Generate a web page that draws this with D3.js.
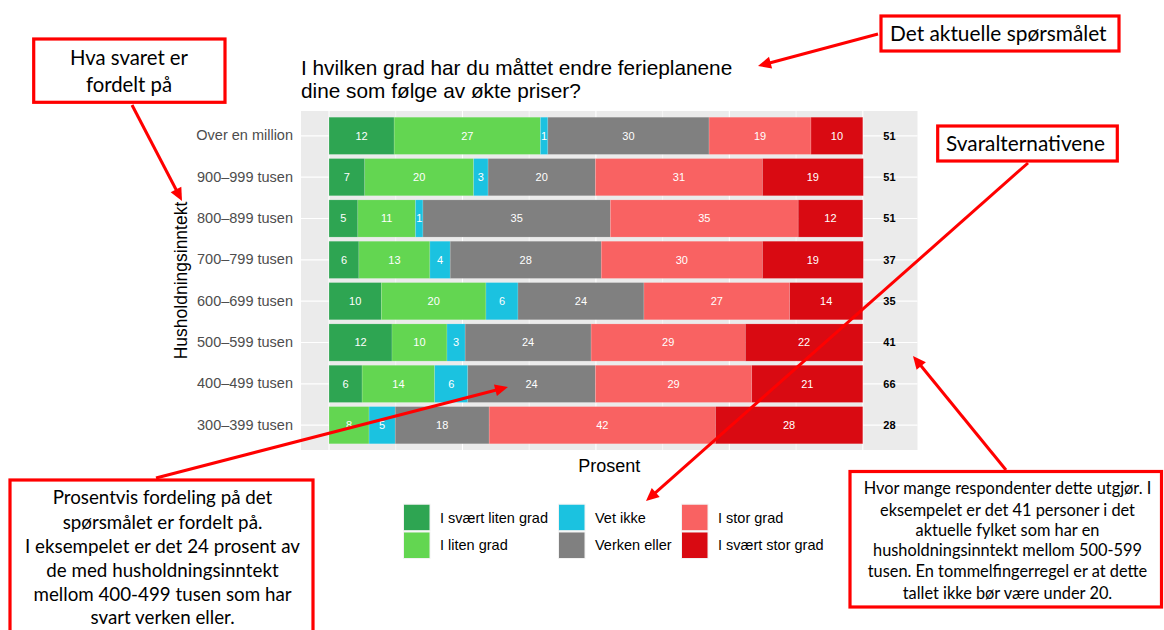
<!DOCTYPE html>
<html><head><meta charset="utf-8">
<script src="https://cdn.jsdelivr.net/npm/d3@7"></script>
<style>body{margin:0;background:#fff}</style>
</head><body><svg id="c" width="1164" height="630"></svg>
<script>
// ---------------- DATA ----------------
const categories = ["Over en million","900–999 tusen","800–899 tusen","700–799 tusen","600–699 tusen","500–599 tusen","400–499 tusen","300–399 tusen"];
const seriesNames = ["I svært liten grad","I liten grad","Vet ikke","Verken eller","I stor grad","I svært stor grad"];
const seriesColors = ["#2ea552","#63d651","#1bc2e0","#808080","#f96262","#d90a12"];
const svaertLitenGrad = [12.2, 6.7, 5.4, 5.6, 9.8, 11.8, 6.2, 0];
const litenGrad       = [27.4, 20.4, 10.8, 13.3, 19.6, 10.3, 13.6, 7.5];
const vetIkke         = [1.4, 2.7, 1.4, 3.8, 6.0, 3.4, 6.2, 4.9];
const verkenEller     = [30.2, 20.1, 35.1, 28.3, 23.6, 23.6, 23.9, 17.6];
const storGrad        = [19.1, 31.3, 35.2, 30.2, 27.3, 28.9, 29.3, 42.4];
const svaertStorGrad  = [9.7, 18.9, 12.1, 18.9, 13.7, 22.0, 20.8, 27.6];
const nRespondents    = [51, 51, 51, 37, 35, 41, 66, 28];
const nLabelPos = 105;
const xMajorTicks = [0, 25, 50, 75, 100];
const xMinorTicks = [12.5, 37.5, 62.5, 87.5];
const titleLines = ["I hvilken grad har du måttet endre ferieplanene", "dine som følge av økte priser?"];
const yTitle = "Husholdningsinntekt";
const xTitle = "Prosent";

const seriesValues = [svaertLitenGrad, litenGrad, vetIkke, verkenEller, storGrad, svaertStorGrad];
const table = categories.map((c, i) => {
  const row = {cat: c};
  seriesNames.forEach((s, k) => row[s] = seriesValues[k][i]);
  return row;
});

// ---------------- CHART ----------------
const svg = d3.select("#c");
svg.append("rect").attr("width", 1164).attr("height", 630).attr("fill", "#fff");
const P = {l: 301, r: 917.5, t: 111, b: 450};
const chartFont = "'Liberation Sans', Arial, Helvetica, sans-serif";

const x = d3.scaleLinear().domain([-5.25, 110.25]).range([P.l, P.r]);
const y = d3.scaleBand().domain(categories).range([P.t, P.b]).paddingInner(0.1).paddingOuter(0.15);
const color = d3.scaleOrdinal().domain(seriesNames).range(seriesColors);

svg.append("rect").attr("x", P.l).attr("y", P.t).attr("width", P.r - P.l).attr("height", P.b - P.t).attr("fill", "#ebebeb");
const grid = svg.append("g");
grid.selectAll(".vmin").data(xMinorTicks).join("line")
  .attr("x1", d => x(d)).attr("x2", d => x(d)).attr("y1", P.t).attr("y2", P.b)
  .attr("stroke", "#fff").attr("stroke-width", 0.6);
grid.selectAll(".vmaj").data(xMajorTicks).join("line")
  .attr("x1", d => x(d)).attr("x2", d => x(d)).attr("y1", P.t).attr("y2", P.b)
  .attr("stroke", "#fff").attr("stroke-width", 1.1);
grid.selectAll(".h").data(categories).join("line")
  .attr("x1", P.l).attr("x2", P.r).attr("y1", d => y(d) + y.bandwidth() / 2).attr("y2", d => y(d) + y.bandwidth() / 2)
  .attr("stroke", "#fff").attr("stroke-width", 1.2);

const stacked = d3.stack().keys(seriesNames)(table);
const layers = svg.append("g").selectAll("g").data(stacked).join("g").attr("fill", d => color(d.key));
layers.selectAll("rect").data(d => d).join("rect")
  .attr("x", d => x(d[0])).attr("width", d => x(d[1]) - x(d[0]))
  .attr("y", d => y(d.data.cat)).attr("height", y.bandwidth())
  .attr("stroke", "rgba(255,255,255,0.25)").attr("stroke-width", 0.6);

const labels = svg.append("g").attr("font-family", chartFont).attr("font-size", 11).attr("fill", "#fff").attr("text-anchor", "middle");
stacked.forEach(layer => {
  layer.forEach(d => {
    const v = d[1] - d[0];
    if (v <= 0) return;
    labels.append("text").attr("x", (x(d[0]) + x(d[1])) / 2).attr("y", y(d.data.cat) + y.bandwidth() / 2).attr("dy", "0.36em")
      .text(Math.round(v));
  });
});

svg.append("g").attr("font-family", chartFont).attr("font-size", 11).attr("font-weight", "bold").attr("fill", "#000").attr("text-anchor", "middle")
  .selectAll("text").data(categories).join("text")
  .attr("x", x(nLabelPos)).attr("y", d => y(d) + y.bandwidth() / 2).attr("dy", "0.36em")
  .text((d, i) => nRespondents[i]);

const yAxis = svg.append("g").attr("transform", `translate(${P.l},0)`).call(d3.axisLeft(y).tickSize(0).tickPadding(8));
yAxis.select(".domain").remove();
yAxis.selectAll("text").attr("font-family", chartFont).attr("font-size", 14.5).attr("fill", "#4d4d4d");

svg.append("g").attr("font-family", chartFont).attr("font-size", 20.8).attr("fill", "#000")
  .selectAll("text").data(titleLines).join("text").attr("x", P.l).attr("y", (d, i) => 74.5 + i * 23).text(d => d);

svg.append("text").attr("transform", `translate(187,${(P.t + P.b) / 2}) rotate(-90)`).attr("text-anchor", "middle")
  .attr("font-family", chartFont).attr("font-size", 17.5).attr("fill", "#000").text(yTitle);
svg.append("text").attr("x", (P.l + P.r) / 2).attr("y", 472).attr("text-anchor", "middle")
  .attr("font-family", chartFont).attr("font-size", 18).attr("fill", "#000").text(xTitle);

// legend
const legCols = [403.5, 558.5, 681.5], legRows = [504.2, 532], keyS = 26.5, legLabelOff = 36.5;
const leg = svg.append("g").attr("font-family", chartFont).attr("font-size", 14.5);
seriesNames.forEach((s, i) => {
  const cx = legCols[Math.floor(i / 2)], cy = legRows[i % 2];
  leg.append("rect").attr("x", cx).attr("y", cy).attr("width", keyS).attr("height", keyS).attr("fill", color(s))
    .attr("stroke", "#f2f2f2").attr("stroke-width", 1);
  leg.append("text").attr("x", cx + legLabelOff).attr("y", cy + keyS / 2).attr("dy", "0.36em").attr("fill", "#000").text(s);
});

// ---------------- ANNOTATIONS ----------------
const red = "#ff0000";
const arrows = [
  [[132, 105], [182, 201]],
  [[878, 34], [758, 66]],
  [[1028, 163], [646, 501]],
  [[156, 478], [508, 387]],
  [[1006, 470], [913, 356]]
];
arrows.forEach(([a, b]) => {
  const dx = b[0] - a[0], dy = b[1] - a[1], L = Math.hypot(dx, dy);
  const bx = b[0] - dx / L * 9, by = b[1] - dy / L * 9;
  svg.append("line").attr("x1", a[0]).attr("y1", a[1]).attr("x2", bx).attr("y2", by)
    .attr("stroke", red).attr("stroke-width", 3);
  const ang = Math.atan2(dy, dx) * 180 / Math.PI;
  svg.append("path").attr("d", "M-13,-6 L0,0 L-13,6 z").attr("fill", red)
    .attr("transform", `translate(${b[0]},${b[1]}) rotate(${ang})`);
});

const annFont = "Lato, 'Open Sans', sans-serif";
const boxes = [
  {r: [33.7, 39, 191.3, 63.3], cx: 129, ys: [58.3, 85], lines: ["Hva svaret er", "fordelt på"], ref: 0, w: 118},
  {r: [881, 16, 238, 35], cx: 998.3, ys: [33.3], lines: ["Det aktuelle spørsmålet"], ref: 0, w: 216.7},
  {r: [937.7, 126, 179.6, 35], cx: 1025.5, ys: [143.3], lines: ["Svaralternativene"], ref: 0, w: 159},
  {r: [10, 480, 303, 170], cx: 162.5, ys: [497.7, 522.3, 546.7, 570.7, 594, 617.3],
   lines: ["Prosentvis fordeling på det", "spørsmålet er fordelt på.", "I eksempelet er det 24 prosent av", "de med husholdningsinntekt", "mellom 400-499 tusen som har", "svart verken eller."], ref: 2, w: 275},
  {r: [850, 471.5, 311.5, 135.5], cx: 1007.5, ys: [488.3, 510, 530.7, 550.7, 571.7, 593.3],
   lines: ["Hvor mange respondenter dette utgjør. I", "eksempelet er det 41 personer i det", "aktuelle fylket som har en", "husholdningsinntekt mellom 500-599", "tusen. En tommelfingerregel er at dette", "tallet ikke bør være under 20."], ref: 0, w: 287.7}
];
boxes.forEach(b => {
  const g = svg.append("g");
  g.append("rect").attr("x", b.r[0]).attr("y", b.r[1]).attr("width", b.r[2]).attr("height", b.r[3])
    .attr("fill", "#fff").attr("stroke", red).attr("stroke-width", 3.2);
  const t = g.selectAll("text").data(b.lines).join("text")
    .attr("x", b.cx).attr("y", (d, i) => b.ys[i]).attr("dy", "0.35em").attr("text-anchor", "middle")
    .attr("font-family", annFont).attr("font-size", 20).attr("fill", "#000").text(d => d);
  const measured = t.nodes()[b.ref].getComputedTextLength();
  const fs = 20 * b.w / measured;
  t.attr("font-size", fs);
});
</script>
</body></html>
